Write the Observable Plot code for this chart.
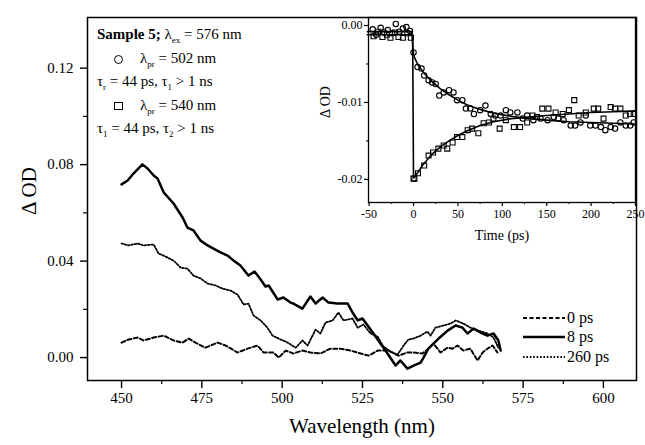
<!DOCTYPE html>
<html><head><meta charset="utf-8">
<script src="https://cdn.jsdelivr.net/npm/d3@7"></script>
<script src="https://cdn.jsdelivr.net/npm/@observablehq/plot@0.6"></script>
<style>
body{margin:0;background:#fff;}
#wrap{position:relative;width:645px;height:445px;overflow:hidden;font-family:"Liberation Serif","Times New Roman",serif;color:#000;background:#fff;}
#wrap svg{position:absolute;overflow:visible;}
#wrap svg, #wrap svg text{font-family:"Liberation Serif","Times New Roman",serif !important;}
.leg{position:absolute;font-size:15px;line-height:15px;white-space:nowrap;}
.leg sub{font-size:9px;vertical-align:-4px;line-height:0;}
.sym{display:inline-block;position:absolute;box-sizing:border-box;border:1.5px solid #000;}
</style></head><body><div id="wrap"></div>
<script>
// ---- main spectra (wavelength nm, ΔOD) ----
const wl0 = [450.0,452.2,455.0,456.8,460.0,463.1,466.2,469.0,470.9,473.0,476.1,479.9,482.4,486.1,489.2,492.3,494.2,497.3,498.9,501.1,503.5,506.3,508.8,511.9,515.0,518.1,521.3,524.4,526.9,529.7,533.1,536.2,539.0,540.9,543.7,545.5,547.1,549.3,551.5,553.0,554.6,556.4,558.6,560.8,562.4,563.9,565.5,567.0];
const od0 = [0.0062,0.0075,0.0083,0.0071,0.0083,0.0091,0.0071,0.0062,0.0079,0.0062,0.0041,0.0062,0.0050,0.0021,0.0037,0.0050,0.0021,0.0021,0.0000,0.0029,0.0017,0.0029,0.0021,0.0017,0.0037,0.0037,0.0029,0.0017,0.0008,0.0029,0.0029,0.0008,0.0021,0.0021,0.0017,0.0037,0.0058,0.0021,0.0041,0.0037,0.0050,0.0029,0.0037,-0.0012,0.0021,0.0037,0.0050,0.0021];
const wl8 = [450.0,451.9,453.7,456.5,458.1,460.0,461.2,463.1,466.2,469.0,470.5,472.4,474.6,476.8,478.6,480.8,483.0,484.9,487.0,489.5,491.4,493.3,494.8,495.8,498.6,500.4,502.6,503.5,506.3,508.8,510.4,512.6,514.4,517.2,520.4,521.9,523.5,525.0,526.6,528.4,530.6,532.8,535.3,536.8,539.0,540.9,543.1,544.0,545.5,547.1,548.7,551.5,554.0,556.1,557.7,559.6,561.7,563.9,565.8,567.3,568.0];
const od8 = [0.0718,0.0734,0.0763,0.0801,0.0784,0.0755,0.0743,0.0685,0.0639,0.0581,0.0539,0.0527,0.0485,0.0465,0.0452,0.0436,0.0423,0.0402,0.0382,0.0340,0.0357,0.0324,0.0295,0.0299,0.0241,0.0249,0.0228,0.0224,0.0203,0.0253,0.0224,0.0249,0.0228,0.0224,0.0224,0.0187,0.0154,0.0162,0.0133,0.0100,0.0058,0.0017,-0.0033,-0.0012,-0.0046,-0.0033,-0.0021,0.0000,0.0037,0.0058,0.0079,0.0112,0.0133,0.0124,0.0100,0.0120,0.0104,0.0091,0.0100,0.0071,0.0029];
const wl260 = [450.0,452.2,455.0,456.8,460.0,461.5,464.3,466.2,468.4,470.5,472.4,474.6,476.8,479.3,481.4,483.9,486.1,488.0,489.5,491.1,493.3,495.4,497.0,498.9,501.7,504.2,506.3,507.9,510.4,511.9,513.5,515.7,517.5,519.1,521.9,523.5,525.3,527.5,529.7,531.5,533.7,535.9,537.8,539.3,540.9,543.1,545.2,546.2,547.7,550.2,552.4,554.0,556.4,558.6,561.1,563.9,565.8,567.3];
const od260 = [0.0473,0.0465,0.0473,0.0465,0.0469,0.0432,0.0415,0.0402,0.0373,0.0369,0.0340,0.0328,0.0307,0.0299,0.0286,0.0278,0.0261,0.0220,0.0224,0.0174,0.0154,0.0124,0.0091,0.0079,0.0062,0.0041,0.0071,0.0050,0.0116,0.0100,0.0145,0.0154,0.0187,0.0154,0.0162,0.0124,0.0137,0.0100,0.0087,0.0046,0.0025,0.0012,0.0050,0.0075,0.0079,0.0091,0.0108,0.0091,0.0124,0.0133,0.0141,0.0154,0.0141,0.0124,0.0112,0.0100,0.0083,0.0041];

const xTicks = [450,475,500,525,550,575,600];
const xMinor = [462.5,487.5,512.5,537.5,562.5,587.5];
const yTicks = [0,0.04,0.08,0.12];
const yMinor = [0.02,0.06,0.10];

// ---- inset kinetics (time ps, ΔOD) ----
const tCirc = [-46,-42,-37,-33,-29,-24,-20,-16,-12,-8,-4,0,4.5,9,12,17,21,25,29,34,40,45,49,55,59,64,68,75,81,87,92,98,104,109,117,123,128,135,143,151,158,163,169,177,182,188,194,199,205,211,216,222,227,233,239,244,248];
const odCirc = [-0.0005,-0.0012,-0.0003,-0.0009,-0.0006,-0.0010,0.0002,-0.0008,-0.0004,-0.0002,-0.0007,-0.0035,-0.0054,-0.0056,-0.0065,-0.0071,-0.0074,-0.0076,-0.0091,-0.0087,-0.0084,-0.0087,-0.0097,-0.0097,-0.0108,-0.0108,-0.0115,-0.0110,-0.0104,-0.0115,-0.0117,-0.0117,-0.0110,-0.0113,-0.0113,-0.0121,-0.0117,-0.0123,-0.0121,-0.0123,-0.0119,-0.0121,-0.0123,-0.0130,-0.0130,-0.0126,-0.0117,-0.0130,-0.0130,-0.0132,-0.0136,-0.0132,-0.0134,-0.0126,-0.0130,-0.0130,-0.0126];
const tSq = [-45,-40,-35,-30,-26,-21,-17,-12,-7,-3,0,1,5,12,17,22,28,34,38,44,49,55,61,66,73,79,85,90,97,104,113,120,128,134,139,145,152,160,168,175,181,186,194,203,208,214,222,227,233,239,244,248];
const odSq = [-0.0014,-0.0008,-0.0015,-0.0012,-0.0016,-0.0009,-0.0015,-0.0016,-0.0010,-0.0016,-0.0199,-0.0199,-0.0192,-0.0182,-0.0169,-0.0165,-0.0160,-0.0156,-0.0160,-0.0152,-0.0145,-0.0145,-0.0136,-0.0134,-0.0140,-0.0127,-0.0126,-0.0121,-0.0134,-0.0123,-0.0132,-0.0132,-0.0126,-0.0117,-0.0119,-0.0108,-0.0108,-0.0113,-0.0115,-0.0110,-0.0097,-0.0117,-0.0113,-0.0108,-0.0108,-0.0121,-0.0106,-0.0108,-0.0108,-0.0117,-0.0115,-0.0115];
const fitCircT = [-52,-2,0,2,5,10,15,20,30,40,50,60,75,90,110,130,150,175,200,225,250];
const fitCircOD = [-0.0008,-0.0008,-0.0038,-0.0044,-0.0051,-0.0059,-0.0066,-0.0072,-0.0082,-0.0090,-0.0097,-0.0103,-0.0109,-0.0114,-0.0118,-0.0121,-0.0123,-0.0125,-0.0126,-0.0127,-0.0128];
const fitSqT = [-52,-1,0,3,6,10,15,20,30,40,50,60,75,90,110,130,150,175,200,225,250];
const fitSqOD = [-0.0012,-0.0012,-0.0198,-0.0194,-0.0189,-0.0182,-0.0175,-0.0168,-0.0158,-0.0150,-0.0143,-0.0137,-0.0130,-0.0125,-0.0121,-0.0119,-0.0117,-0.0115,-0.0113,-0.0112,-0.0111];
const tTicks = [-50,0,50,100,150,200,250];
const tMinor = [-25,25,75,125,175,225];
const insetYTicks = [0,-0.01,-0.02];
const insetYMinor = [-0.005,-0.015];

const pair = (xs, ys) => xs.slice(0, Math.min(xs.length, ys.length)).map((x, i) => ({x, y: ys[i]}));
const FF = "Liberation Serif";
const STYLE = "font-family:'Liberation Serif','Times New Roman',serif;color:#000;background:transparent;";
const DOT260 = "1.6,1.8";
const DASH0 = "4,2.5";

const main = Plot.plot({
  width: 645, height: 445,
  marginTop: 17, marginRight: 9, marginBottom: 65, marginLeft: 87,
  x: {domain: [439.4, 610.3]},
  y: {domain: [-0.0095, 0.141]},
  style: STYLE,
  marks: [
    Plot.axisX({ticks: xTicks, tickSize: 8, tickPadding: 4, fontSize: 15, fontFamily: FF, strokeWidth: 1.4, tickFormat: d => String(d), label: null}),
    Plot.axisX({ticks: xMinor, tickSize: 4, strokeWidth: 1.2, tickFormat: () => "", label: null}),
    Plot.axisY({ticks: yTicks, tickSize: 7, tickPadding: 7, fontSize: 15, fontFamily: FF, strokeWidth: 1.4, tickFormat: d => d.toFixed(2), label: null}),
    Plot.axisY({ticks: yMinor, tickSize: 4, strokeWidth: 1.2, tickFormat: () => "", label: null}),
    Plot.line(pair(wl0, od0), {x: "x", y: "y", stroke: "#000", strokeWidth: 2, strokeDasharray: DASH0}),
    Plot.line(pair(wl260, od260), {x: "x", y: "y", stroke: "#000", strokeWidth: 1.8, strokeDasharray: DOT260}),
    Plot.line(pair(wl8, od8), {x: "x", y: "y", stroke: "#000", strokeWidth: 2.5}),
    Plot.frame({stroke: "#000", strokeWidth: 1.5}),
    Plot.text(["Δ OD"], {text: d => d, frameAnchor: "left", dx: -58, dy: 16, rotate: -90, fontSize: 21, fontFamily: FF}),
    Plot.text(["Wavelength (nm)"], {text: d => d, frameAnchor: "bottom", dy: 52, fontSize: 21, fontFamily: FF})
  ]
});

const inset = Plot.plot({
  width: 345, height: 250,
  marginTop: 17, marginRight: 10, marginBottom: 48, marginLeft: 68,
  x: {domain: [-50.7, 250]},
  y: {domain: [-0.023, 0.00104]},
  style: STYLE,
  marks: [
    Plot.axisX({ticks: tTicks, tickSize: 4, tickPadding: 3, fontSize: 12, fontFamily: FF, strokeWidth: 1.2, tickFormat: d => String(d), label: null}),
    Plot.axisX({ticks: tMinor, tickSize: 2, tickFormat: () => "", label: null}),
    Plot.axisY({ticks: insetYTicks, tickSize: 4, tickPadding: 2, fontSize: 12, fontFamily: FF, strokeWidth: 1.2, tickFormat: d => d.toFixed(2), label: null}),
    Plot.axisY({ticks: insetYMinor, tickSize: 2, tickFormat: () => "", label: null}),
    Plot.dot(pair(tCirc, odCirc), {x: "x", y: "y", r: 2.7, stroke: "#000", fill: "none", strokeWidth: 1.1}),
    Plot.dot(pair(tSq, odSq), {x: "x", y: "y", symbol: "square", r: 2.8, stroke: "#000", fill: "none", strokeWidth: 1.1}),
    Plot.line(pair(fitCircT, fitCircOD), {x: "x", y: "y", stroke: "#000", strokeWidth: 1.6}),
    Plot.line(pair(fitSqT, fitSqOD), {x: "x", y: "y", stroke: "#000", strokeWidth: 1.6}),
    Plot.frame({stroke: "#000", strokeWidth: 1.3}),
    Plot.text(["Δ OD"], {text: d => d, frameAnchor: "left", dx: -43, dy: 8, rotate: -90, fontSize: 14, fontFamily: FF}),
    Plot.text(["Time (ps)"], {text: d => d, frameAnchor: "bottom", dy: 37, fontSize: 14, fontFamily: FF})
  ]
});

const wrap = document.getElementById("wrap");
main.style.left = "0px"; main.style.top = "0px";
inset.style.left = "300px"; inset.style.top = "0px";
wrap.appendChild(main);
wrap.appendChild(inset);

// ---- top-left annotation ----
const notes = [
  {left: 97, top: 27, html: "<b>Sample 5;</b> λ<sub>ex</sub> = 576 nm"},
  {left: 140, top: 50.5, html: "λ<sub>pr</sub> = 502 nm"},
  {left: 97, top: 74, html: "τ<sub>r</sub> = 44 ps, τ<sub>1</sub> &gt; 1 ns"},
  {left: 140, top: 97.5, html: "λ<sub>pr</sub> = 540 nm"},
  {left: 97, top: 121, html: "τ<sub>1</sub> = 44 ps, τ<sub>2</sub> &gt; 1 ns"}
];
notes.forEach(n => {
  const d = document.createElement("div");
  d.className = "leg"; d.style.left = n.left + "px"; d.style.top = n.top + "px";
  d.innerHTML = n.html; wrap.appendChild(d);
});
const circ = document.createElement("span");
circ.className = "sym"; Object.assign(circ.style, {left: "114px", top: "55px", width: "9px", height: "9px", borderRadius: "50%"});
wrap.appendChild(circ);
const sq = document.createElement("span");
sq.className = "sym"; Object.assign(sq.style, {left: "114px", top: "102px", width: "9px", height: "8px"});
wrap.appendChild(sq);

// ---- bottom-right series legend ----
const legendItems = [
  {label: "0 ps", dash: DASH0, w: 2, y: 318},
  {label: "8 ps", dash: "none", w: 2.5, y: 337},
  {label: "260 ps", dash: DOT260, w: 1.8, y: 357}
];
legendItems.forEach(it => {
  const s = document.createElementNS("http://www.w3.org/2000/svg", "svg");
  s.setAttribute("width", 44); s.setAttribute("height", 10);
  s.style.left = "522px"; s.style.top = (it.y - 5) + "px";
  const l = document.createElementNS("http://www.w3.org/2000/svg", "line");
  l.setAttribute("x1", 1); l.setAttribute("x2", 43); l.setAttribute("y1", 5); l.setAttribute("y2", 5);
  l.setAttribute("stroke", "#000"); l.setAttribute("stroke-width", it.w);
  if (it.dash !== "none") l.setAttribute("stroke-dasharray", it.dash);
  s.appendChild(l); wrap.appendChild(s);
  const t = document.createElement("div");
  t.className = "leg"; t.style.left = "567px"; t.style.top = (it.y - 8) + "px";
  t.style.fontSize = "16px"; t.style.lineHeight = "16px";
  t.textContent = it.label; wrap.appendChild(t);
});
</script></body></html>
